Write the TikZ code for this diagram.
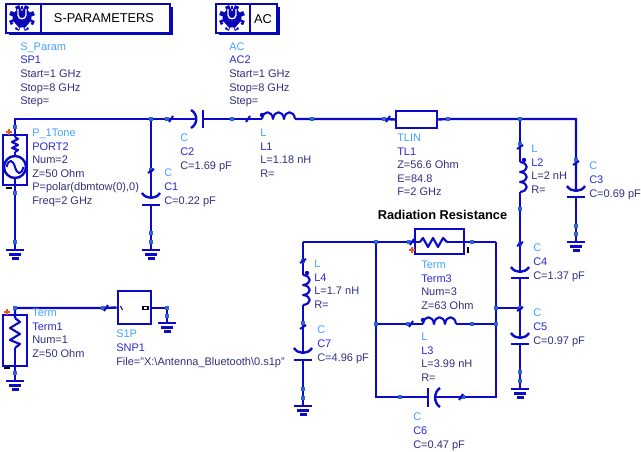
\documentclass[tikz,border=0pt]{standalone}
\usepackage{fontspec}
\setmainfont{Liberation Sans}
\definecolor{wirec}{HTML}{0A0AC8}
\definecolor{bannerc}{HTML}{0808B8}
\definecolor{pinc}{HTML}{3366CC}
\definecolor{laba}{HTML}{45A2FF}
\definecolor{labb}{HTML}{2A2AD2}
\definecolor{labc}{HTML}{30307E}
\definecolor{plusc}{HTML}{F0551E}
\pgfdeclarelayer{bg}
\pgfsetlayers{bg,main}
\tikzset{
  wire/.style={draw=wirec,line width=1.8pt,line join=miter},
  thin wire/.style={draw=wirec,line width=1.6pt,line join=round},
  pin/.style={fill=pinc,inner sep=0pt,minimum size=3.6pt,draw=none,rectangle},
  lab/.style={anchor=north west,inner sep=0pt,align=left,font=\fontsize{8.25}{10.15}\selectfont,text=labc},
  banner/.style={draw=bannerc,line width=2.2pt,fill=white},
  bannertext/.style={inner sep=0pt,font=\fontsize{9.6}{11}\selectfont,text=black},
  gnd/.pic={\draw[wire] (-9,0)--(9,0) (-6,4.5)--(6,4.5) (-3.5,8.5)--(3.5,8.5);},
  tickh/.pic={\draw[draw=wirec,line width=1.5pt] (-2,3)--(2,-3);},
  tickv/.pic={\draw[draw=wirec,line width=1.5pt] (-3,2)--(3,-2);},
  plus/.pic={\draw[draw=plusc,line width=1.5pt] (-3,0)--(3,0) (0,-3)--(0,3);},
  minus/.pic={\draw[draw=black,line width=1.7pt] (-3,0)--(3,0);},
  icon/.pic={
    \fill[bannerc] (0,0) circle (9.5);
    \foreach \a in {0,45,...,315}{\fill[bannerc,rotate=\a+22] (-2.2,-13)rectangle(2.2,0);}
    \draw[white,line width=1pt] (-4,-9)--(-4,-3) .. controls (-4,2) and (4,2) .. (4,-3)--(4,-9);
    \fill[bannerc] (-1.4,-12) rectangle (1.4,-1);
    \fill[white] (0,-8) circle (1);
    \draw[white,line width=1pt] (-9,4)--(-3,11) (9,4)--(3,11);
    \fill[white] (-13,9) rectangle (-9,14) (13,9) rectangle (9,14);
  },
}
\newcommand{\capv}[4]{% name,x,ycurve-bottom,ystraight
  \coordinate (#1a) at (#2,#3);
  \coordinate (#1b) at (#2,#4);
  \draw[wire] (#2-9,#3-5) .. controls (#2-5,#3+1.5) and (#2+5,#3+1.5) .. (#2+9,#3-5);
  \draw[wire] (#2-9,#4)--(#2+9,#4);
}
\newcommand{\coilh}[3]{% name,xstart,y
  \coordinate (#1a) at (#2,#3);
  \coordinate (#1b) at (#2+33,#3);
  \fill[wirec] (#2,#3-4) circle (2.2);
  \draw[thin wire] (#2,#3) .. controls +(1,-9) and +(-1,-9) .. ++(11,0)
    .. controls +(1,-9) and +(-1,-9) .. ++(11,0)
    .. controls +(1,-9) and +(-1,-9) .. ++(11,0);
}
\newcommand{\coilv}[3]{% name,x,ystart
  \coordinate (#1a) at (#2,#3);
  \coordinate (#1b) at (#2,#3+30);
  \fill[wirec] (#2+4,#3-2) circle (2.2);
  \draw[thin wire] (#2,#3) .. controls +(9,1) and +(9,-1) .. ++(0,10)
    .. controls +(9,1) and +(9,-1) .. ++(0,10)
    .. controls +(9,1) and +(9,-1) .. ++(0,10);
}
\begin{document}
\begin{tikzpicture}[x=0.75pt,y=-0.75pt]
\useasboundingbox (0,0) rectangle (641,452);
% banners
\fill[bannerc] (9,7) rectangle (172.5,35.5);
\draw[banner] (6,4) rectangle (170,33);
\draw[banner] (41,4)--(41,33);
\pic at (22,18) {icon};
\node[bannertext] (sptitle) at (104,18) {S-PARAMETERS};
\fill[bannerc] (219,7) rectangle (279.5,35.5);
\draw[banner] (216,4) rectangle (277,33);
\draw[banner] (250,4)--(250,33);
\pic at (232,18) {icon};
\node[bannertext] (actitle) at (263,19) {AC};
% pins
\node[pin] (p1) at (15,127) {};
\node[pin] (p2) at (15,193) {};
\node[pin] (p3) at (15,242) {};
\node[pin] (j1) at (151,119) {};
\node[pin] (c2l) at (167,119) {};
\node[pin] (c2r) at (232,119) {};
\node[pin] (l1r) at (312,119) {};
\node[pin] (tl) at (384,119) {};
\node[pin] (tr) at (448,119) {};
\node[pin] (j2) at (520,119) {};
\coordinate (corn) at (576,119);
\node[pin] (c1t) at (151,170) {};
\node[pin] (c1b) at (151,233) {};
\node[pin] (c1g) at (151,242) {};
\node[pin] (l2t) at (520,144) {};
\node[pin] (l2b) at (520,209) {};
\node[pin] (c4t) at (520,244) {};
\node[pin] (j3) at (520,308) {};
\node[pin] (c5b) at (520,372) {};
\node[pin] (c5g) at (520,381) {};
\node[pin] (c3t) at (576,160) {};
\node[pin] (c3b) at (576,226) {};
\node[pin] (c3g) at (576,234) {};
\node[pin] (tla) at (376,242) {};
\node[pin] (t3l) at (409,242) {};
\node[pin] (t3r) at (472,242) {};
\coordinate (tlc) at (496,242);
\node[pin] (mr) at (496,308) {};
\node[pin] (ml) at (376,324) {};
\node[pin] (l3l) at (408,324) {};
\node[pin] (l3r) at (472,324) {};
\node[pin] (mrr) at (496,324) {};
\coordinate (bl) at (376,397);
\coordinate (br) at (496,397);
\node[pin] (c6l) at (400,397) {};
\node[pin] (c6r) at (463,397) {};
\coordinate (l4c) at (303,242);
\node[pin] (l4t) at (303,261) {};
\node[pin] (c7t) at (303,323) {};
\node[pin] (c7b) at (303,389) {};
\node[pin] (c7g) at (303,398) {};
\node[pin] (t1t) at (15,308) {};
\node[pin] (t1b) at (15,373) {};
\node[pin] (sl) at (103,308) {};
\node[pin] (sr) at (167,308) {};
\node[pin] (sg) at (167,316) {};
% grounds
\coordinate (g1) at (15,250);  \pic at (g1) {gnd};
\coordinate (g2) at (151,250); \pic at (g2) {gnd};
\coordinate (g3) at (576,242); \pic at (g3) {gnd};
\coordinate (g4) at (520,389); \pic at (g4) {gnd};
\coordinate (g5) at (303,406); \pic at (g5) {gnd};
\coordinate (g6) at (15,381);  \pic at (g6) {gnd};
\coordinate (g7) at (167,323); \pic at (g7) {gnd};
% capacitors
\capv{cA}{151}{198}{205}
\capv{cB}{576}{191}{197}
\capv{cC}{520}{272}{278}
\capv{cD}{520}{338}{344}
\capv{cE}{303}{353}{360}
% C2 horizontal
\coordinate (c2a) at (197,119); \coordinate (c2b) at (203,119);
\draw[wire] (191,110) .. controls (198,114) and (198,124) .. (191,128);
\draw[wire] (203,110)--(203,128);
% C6 horizontal
\coordinate (c6a) at (428,397); \coordinate (c6b) at (435,397);
\draw[wire] (428,388)--(428,407);
\draw[wire] (440,388) .. controls (433.5,392) and (433.5,403) .. (440,407);
% inductors
\coilh{lA}{262}{119}
\coilh{lC}{423}{324}
\coilv{lB}{520}{162}
\coilv{lD}{303}{275}
% TLIN
\node[draw=wirec,line width=1.8pt,fill=white,inner sep=0pt,minimum width=30.75pt,minimum height=12.75pt] (tlin) at (416.5,119.5) {};
% SNP
\node[draw=wirec,line width=1.9pt,fill=white,inner sep=0pt,minimum width=24.75pt,minimum height=24.75pt] (snp) at (134.5,307.5) {};
\draw[draw=black!70!wirec,line width=.8pt] (120.5,306)--(122.5,310);
\node[draw=black!70!wirec,line width=.9pt,inner sep=0pt,minimum width=3.7pt,minimum height=2.2pt] (snpr) at (145.5,308) {};
% ports
\draw[wire] (3,135) rectangle (27,185);
\draw[wire] (3,315) rectangle (27,366);
\node[draw=wirec,line width=1.8pt,circle,inner sep=0pt,minimum size=16.5pt] (src) at (15,167) {};
\draw[draw=wirec,line width=1.5pt] (6.5,167) .. controls (9,158) and (13,160) .. (15,167) .. controls (17,174) and (21,176) .. (23.5,167);
% resistors
\draw[thin wire] (15,137)--(18,139)--(12,142)--(18,145)--(12,148)--(18,150)--(15,152);
\coordinate (rpt) at (15,137); \coordinate (rpb) at (15,152);
\draw[thin wire] (15,318)--(20,322)--(10,328)--(20,334)--(10,340)--(20,344)--(15,348);
\coordinate (rtt) at (15,318); \coordinate (rtb) at (15,348);
\draw[wire] (415,229) rectangle (464,254);
\draw[thin wire] (420,242)--(423,238)--(428,247)--(433,238)--(438,247)--(443,238)--(447,242);
\coordinate (r3l) at (420,242); \coordinate (r3r) at (447,242);
% marks
\pic at (9,132) {plus};
\pic at (9,188) {minus};
\pic at (7,312) {plus};
\pic at (7,368) {minus};
\pic at (412,250) {plus};
\draw[draw=black,line width=1.7pt] (468,247)--(468,253);
% ticks
\pic at (171,119) {tickh};
\pic at (248,119) {tickh};
\pic at (388,119) {tickh};
\pic at (106,308) {tickh};
\pic at (412,242) {tickh};
\pic at (411,324) {tickh};
\pic at (461,397) {tickh};
\pic at (151,171) {tickv};
\pic at (520,147) {tickv};
\pic at (576,163) {tickv};
\pic at (520,244) {tickv};
\pic at (520,309) {tickv};
\pic at (303,261) {tickv};
\pic at (303,327) {tickv};
% connectors
\begin{pgfonlayer}{bg}
\draw[wire] (p3.center)--(g1);
\draw[wire] (p2.center)--(p3.center);
\draw[wire] (src.south)--(p2.center);
\draw[wire] (rpb)--(src.north);
\draw[wire] (p1.center)--(rpt);
\draw[wire] (p1.center)--(15,119)--(j1.center);
\draw[wire] (j1.center)--(c2l.center)--(c2a);
\draw[wire] (c2b)--(c2r.center)--(lAa);
\draw[wire] (lAb)--(l1r.center)--(tl.center)--(tlin.west);
\draw[wire] (tlin.east)--(tr.center)--(j2.center)--(corn)--(c3t.center)--(cBa);
\draw[wire] (cBb)--(c3b.center)--(c3g.center)--(g3);
\draw[wire] (j1.center)--(c1t.center)--(cAa);
\draw[wire] (cAb)--(c1b.center)--(c1g.center)--(g2);
\draw[wire] (j2.center)--(l2t.center)--(lBa);
\draw[wire] (lBb)--(l2b.center)--(c4t.center)--(cCa);
\draw[wire] (cCb)--(j3.center)--(cDa);
\draw[wire] (cDb)--(c5b.center)--(c5g.center)--(g4);
\draw[wire] (j3.center)--(mr.center);
\draw[wire] (tlc)--(mr.center)--(mrr.center)--(br)--(c6r.center)--(c6b);
\draw[wire] (c6a)--(c6l.center)--(bl)--(ml.center)--(tla.center);
\draw[wire] (l4c)--(tla.center)--(t3l.center)--(r3l);
\draw[wire] (r3r)--(t3r.center)--(tlc);
\draw[wire] (ml.center)--(l3l.center)--(lCa);
\draw[wire] (lCb)--(l3r.center)--(mrr.center);
\draw[wire] (l4c)--(l4t.center)--(lDa);
\draw[wire] (lDb)--(c7t.center)--(cEa);
\draw[wire] (cEb)--(c7b.center)--(c7g.center)--(g5);
\draw[wire] (rtb)--(t1b.center)--(g6);
\draw[wire] (rtt)--(t1t.center)--(sl.center)--(snp.west);
\draw[wire] (snp.east|-sr)--(sr.center)--(sg.center)--(g7);
\end{pgfonlayer}
% labels
\node[lab] (tsp) at (20,42.5) {\textcolor{laba}{S\_Param}\\\textcolor{labb}{SP1}\\Start=1 GHz\\Stop=8 GHz\\Step=};
\node[lab] (tac) at (229,42.5) {\textcolor{laba}{AC}\\\textcolor{labb}{AC2}\\Start=1 GHz\\Stop=8 GHz\\Step=};
\node[lab] (tp2) at (32,129) {\textcolor{laba}{P\_1Tone}\\\textcolor{labb}{PORT2}\\Num=2\\Z=50 Ohm\\P=polar(dbmtow(0),0)\\Freq=2 GHz};
\node[lab] (tc1) at (164,169) {\textcolor{laba}{C}\\\textcolor{labb}{C1}\\C=0.22 pF};
\node[lab] (tc2) at (180,134) {\textcolor{laba}{C}\\\textcolor{labb}{C2}\\C=1.69 pF};
\node[lab] (tl1) at (260,129) {\textcolor{laba}{L}\\\textcolor{labb}{L1}\\L=1.18 nH\\R=};
\node[lab] (ttl) at (397,134) {\textcolor{laba}{TLIN}\\\textcolor{labb}{TL1}\\Z=56.6 Ohm\\E=84.8\\F=2 GHz};
\node[lab] (tl2) at (531,145) {\textcolor{laba}{L}\\\textcolor{labb}{L2}\\L=2 nH\\R=};
\node[lab] (tc3) at (589,162) {\textcolor{laba}{C}\\\textcolor{labb}{C3}\\C=0.69 pF};
\node[inner sep=0pt,font=\fontsize{9.6}{11}\selectfont\bfseries] (trad) at (442.5,215) {Radiation Resistance};
\node[lab] (tt3) at (421,261) {\textcolor{laba}{Term}\\\textcolor{labb}{Term3}\\Num=3\\Z=63 Ohm};
\node[lab] (tc4) at (533,244) {\textcolor{laba}{C}\\\textcolor{labb}{C4}\\C=1.37 pF};
\node[lab] (tc5) at (533,309) {\textcolor{laba}{C}\\\textcolor{labb}{C5}\\C=0.97 pF};
\node[lab] (tl4) at (314,260) {\textcolor{laba}{L}\\\textcolor{labb}{L4}\\L=1.7 nH\\R=};
\node[lab] (tc7) at (317,326) {\textcolor{laba}{C}\\\textcolor{labb}{C7}\\C=4.96 pF};
\node[lab] (tl3) at (421,333) {\textcolor{laba}{L}\\\textcolor{labb}{L3}\\L=3.99 nH\\R=};
\node[lab] (tc6) at (413,413) {\textcolor{laba}{C}\\\textcolor{labb}{C6}\\C=0.47 pF};
\node[lab] (tt1) at (32,309) {\textcolor{laba}{Term}\\\textcolor{labb}{Term1}\\Num=1\\Z=50 Ohm};
\node[lab] (tsn) at (116,330) {\textcolor{laba}{S1P}\\\textcolor{labb}{SNP1}\\File="X:\textbackslash Antenna\_Bluetooth\textbackslash 0.s1p"};
\end{tikzpicture}
\end{document}
